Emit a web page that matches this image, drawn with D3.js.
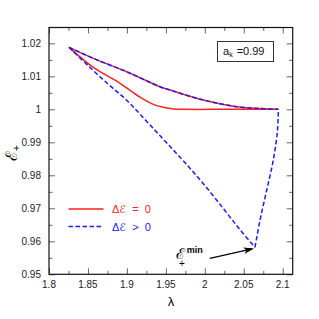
<!DOCTYPE html>
<html>
<head>
<meta charset="utf-8">
<script src="https://cdn.jsdelivr.net/npm/d3@7"></script>
<style>
  body { margin: 0; background: #fff; }
  svg text { font-family: "Liberation Sans", Arial, sans-serif; }
</style>
</head>
<body>
<svg id="chart" width="319" height="319"></svg>
<script>
// upper branch, shared by both families (red solid + blue dashed on top)
const lamUpper = [1.8257, 1.8569, 1.8997, 1.9425, 1.9553, 1.9981, 2.0410, 2.0700, 2.0923, 2.0944]
const epsUpper = [1.01879, 1.01545, 1.01139, 1.00685, 1.00585, 1.00282, 1.00079, 1.00025, 1.0, 1.0]

// red middle branch (delta E = 0)
const lamRed = [1.8257, 1.8569, 1.8911, 1.9168, 1.9339, 1.9467, 1.960, 1.975, 2.03, 2.0944]
const epsRed = [1.01879, 1.0127, 1.0079, 1.0037, 1.0015, 1.0006, 1.0001, 1.0, 1.0, 1.0]

// blue lower branch (delta E > 0): down to the minimum, then back up
const lamBlueDown = [1.8257, 1.85, 1.875, 1.9, 1.925, 1.95, 1.975, 2.0, 2.025, 2.045, 2.0644]
const epsBlueDown = [1.01879, 1.01327, 1.00782, 1.00267, 0.99645, 0.99009, 0.98373, 0.97691, 0.96955, 0.96355, 0.95818]
const lamBlueUp = [2.0644, 2.0709, 2.0795, 2.0879, 2.0933, 2.0944]
const epsBlueUp = [0.95818, 0.96645, 0.97555, 0.98464, 0.99373, 1.0]

const xTicks = [1.8, 1.85, 1.9, 1.95, 2, 2.05, 2.1]
const yTicks = [0.95, 0.96, 0.97, 0.98, 0.99, 1, 1.01, 1.02]

// minimum marker
const minPoint = [2.0632, 0.95782]
const arrowTail = [2.0064, 0.95485]

const svg = d3.select("#chart")
const mLeft = 49, mRight = 292.7, mTop = 27.5, mBottom = 274.3

const x = d3.scaleLinear().domain([1.8, 2.1128]).range([mLeft, mRight])
const y = d3.scaleLinear().domain([0.95, 1.0248]).range([mBottom, mTop])

// minor ticks every half step
const xMinor = d3.range(1.825, 2.11, 0.05)
const yMinor = d3.range(0.955, 1.024, 0.01)

const tickCol = "#666"
function ticks(axisFn, scale, vals, size, transform) {
    svg.append("g").attr("transform", transform)
        .call(axisFn(scale).tickValues(vals).tickSize(size).tickFormat(""))
        .call(g => g.select(".domain").remove())
        .call(g => g.selectAll("line").attr("stroke", tickCol).attr("stroke-width", 1))
}
// ticks point inward on all four sides
ticks(d3.axisTop, x, xTicks, 6, `translate(0,${mBottom})`)
ticks(d3.axisTop, x, xMinor, 3.5, `translate(0,${mBottom})`)
ticks(d3.axisBottom, x, xTicks, 6, `translate(0,${mTop})`)
ticks(d3.axisBottom, x, xMinor, 3.5, `translate(0,${mTop})`)
ticks(d3.axisRight, y, yTicks, 6, `translate(${mLeft},0)`)
ticks(d3.axisRight, y, yMinor, 3.5, `translate(${mLeft},0)`)
ticks(d3.axisLeft, y, yTicks, 6, `translate(${mRight},0)`)
ticks(d3.axisLeft, y, yMinor, 3.5, `translate(${mRight},0)`)

// tick labels
svg.append("g").selectAll("text").data(xTicks).enter().append("text")
    .attr("x", d => x(d)).attr("y", mBottom + 14)
    .attr("text-anchor", "middle").attr("font-size", 10).attr("fill", "#222")
    .text(d => String(d))
svg.append("g").selectAll("text").data(yTicks).enter().append("text")
    .attr("x", mLeft - 8).attr("y", d => y(d) + 3.5)
    .attr("text-anchor", "end").attr("font-size", 10).attr("fill", "#222")
    .text(d => String(d))

const line = d3.line().x(d => x(d[0])).y(d => y(d[1])).curve(d3.curveCatmullRom)
const pts = (a, b) => a.map((v, i) => [v, b[i]])

const red = "#ff2020", blue = "#1a1aff", dash = "4.5,2.5"
function curve(data, color, dashed) {
    svg.append("path").attr("d", line(data))
        .attr("fill", "none").attr("stroke", color).attr("stroke-width", 1.5)
        .attr("stroke-dasharray", dashed ? dash : null)
}
curve(pts(lamRed, epsRed), red, false)
curve(pts(lamUpper, epsUpper), red, false)
curve(pts(lamBlueDown, epsBlueDown), blue, true)
curve(pts(lamBlueUp, epsBlueUp), blue, true)
curve(pts(lamUpper, epsUpper), blue, true)

// frame
svg.append("rect").attr("x", mLeft).attr("y", mTop)
    .attr("width", mRight - mLeft).attr("height", mBottom - mTop)
    .attr("fill", "none").attr("stroke", "#111").attr("stroke-width", 1.2)

const scriptFont = "DejaVu Sans"
// axis labels
svg.append("text").attr("x", 171).attr("y", 306).attr("text-anchor", "middle")
    .attr("font-size", 13).attr("font-family", "DejaVu Serif").text("λ")
const yl = svg.append("text").attr("transform", "translate(17,153) rotate(-90)")
    .attr("text-anchor", "middle").attr("font-size", 16).attr("font-family", scriptFont)
yl.append("tspan").text("ℰ")
yl.append("tspan").attr("font-size", 11).attr("dy", 3).attr("font-family", "Liberation Sans").text("+")

// a_k box
svg.append("rect").attr("x", 217.5).attr("y", 41.5).attr("width", 56).attr("height", 20)
    .attr("fill", "#fff").attr("stroke", "#333").attr("stroke-width", 1)
const ak = svg.append("text").attr("x", 223).attr("y", 55).attr("font-size", 11).attr("fill", "#111")
ak.append("tspan").text("a")
ak.append("tspan").attr("font-size", 7).attr("dy", 2).text("k")
ak.append("tspan").attr("dy", -2).attr("dx", 4).text("=0.99")

// legend
const legend = [
    { op: "=", color: red, dashed: false, yy: 209 },
    { op: ">", color: blue, dashed: true, yy: 226.5 }
]
legend.forEach(l => {
    svg.append("line").attr("x1", 68.5).attr("x2", 103.5).attr("y1", l.yy).attr("y2", l.yy)
        .attr("stroke", l.color).attr("stroke-width", 1.5).attr("stroke-dasharray", l.dashed ? dash : null)
    const t = svg.append("text").attr("x", 112).attr("y", l.yy + 4).attr("font-size", 11)
        .attr("fill", l.color).style("white-space", "pre")
    t.append("tspan").text("Δ")
    t.append("tspan").attr("font-family", scriptFont).attr("font-size", 11).text("ℰ")
    t.append("tspan").text("  " + l.op + "  0")
})

// minimum annotation with arrow
const tx = x(arrowTail[0]), ty = y(arrowTail[1])
const hx = x(minPoint[0]), hy = y(minPoint[1])
const ang = Math.atan2(hy - ty, hx - tx)
svg.append("line").attr("x1", tx).attr("y1", ty).attr("x2", hx - 2 * Math.cos(ang)).attr("y2", hy - 2 * Math.sin(ang))
    .attr("stroke", "#000").attr("stroke-width", 1.3)
const hl = 11, hw = 0.3
svg.append("path")
    .attr("d", `M${hx},${hy} L${hx - hl * Math.cos(ang - hw)},${hy - hl * Math.sin(ang - hw)} ` +
               `L${hx - 0.7 * hl * Math.cos(ang)},${hy - 0.7 * hl * Math.sin(ang)} ` +
               `L${hx - hl * Math.cos(ang + hw)},${hy - hl * Math.sin(ang + hw)} Z`)
    .attr("fill", "#000")
const ml = svg.append("text").attr("x", 176).attr("y", 259).attr("font-size", 15).attr("font-family", scriptFont)
ml.append("tspan").text("ℰ")
ml.append("tspan").attr("font-size", 10).attr("font-family", "Liberation Sans").attr("dy", 8).attr("dx", -6).text("+")
ml.append("tspan").attr("font-size", 9).attr("font-weight", "bold").attr("dy", -14).attr("dx", 2)
    .attr("font-family", "Liberation Sans").text("min")
</script>
</body>
</html>
